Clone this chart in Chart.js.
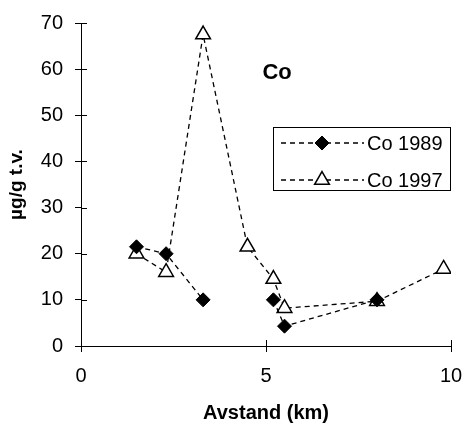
<!DOCTYPE html>
<html>
<head>
<meta charset="utf-8">
<script src="https://cdn.jsdelivr.net/npm/chart.js@4/dist/chart.umd.min.js"></script>
<style>
  html, body { margin: 0; padding: 0; background: #fff; }
  #wrap { width: 464px; height: 426px; }
</style>
</head>
<body>
<div id="wrap"><canvas id="c" width="464" height="426"></canvas></div>
<script>
// Distance of sampling stations (km)
const distance = [1.5, 2.3, 3.3, 4.5, 5.2, 5.5, 8.0, 9.8];
// Co (µg/g t.v.) — null where no measurement
const co1989 = [21.5, 20, 10, null, 10, 4.3, 10, null];
const co1997 = [20, 16, 67.5, 21.5, 14.5, 8.2, 9.7, 16.7];
const seriesLabels = ['Co 1989', 'Co 1997'];
const xTicks = [0, 5, 10];
const yTicks = [0, 10, 20, 30, 40, 50, 60, 70];
const yTitle = 'µg/g t.v.';
const xTitle = 'Avstand (km)';
const panelLabel = 'Co';

const FONT = "'Liberation Sans', Arial, sans-serif";

function toPoints(ys) { return distance.map((x, i) => ({ x: x, y: ys[i] })); }

const ds1989 = {
  label: seriesLabels[0], data: toPoints(co1989), showLine: true, spanGaps: false,
  borderColor: '#000', borderWidth: 1.3, borderDash: [5, 4],
  pointStyle: 'rectRot', pointRadius: 7, pointHoverRadius: 7,
  pointBackgroundColor: '#000', pointBorderColor: '#000', pointBorderWidth: 1
};
const ds1997 = {
  label: seriesLabels[1], data: toPoints(co1997), showLine: true, spanGaps: false,
  borderColor: '#000', borderWidth: 1.3, borderDash: [5, 4],
  pointStyle: 'triangle', pointRadius: 8.5, pointHoverRadius: 8.5,
  pointBackgroundColor: '#fff', pointBorderColor: '#000', pointBorderWidth: 1.5
};

const extras = {
  id: 'extras',
  afterDraw(chart) {
    const ctx = chart.ctx;
    const xs = chart.scales.x, ys = chart.scales.y;
    const area = chart.chartArea;
    ctx.save();
    // inner tick marks (crossing ticks)
    ctx.strokeStyle = '#000'; ctx.lineWidth = 1; ctx.setLineDash([]);
    ctx.beginPath();
    yTicks.forEach(v => { const p = Math.round(ys.getPixelForValue(v)) + 0.5; ctx.moveTo(area.left, p); ctx.lineTo(area.left + 6, p); });
    xTicks.forEach(v => { const p = Math.round(xs.getPixelForValue(v)) + 0.5; ctx.moveTo(p, area.bottom); ctx.lineTo(p, area.bottom - 6); });
    ctx.stroke();

    // panel label
    ctx.fillStyle = '#000';
    ctx.font = 'bold 22px ' + FONT;
    ctx.textAlign = 'center'; ctx.textBaseline = 'middle';
    ctx.fillText(panelLabel, xs.getPixelForValue(5.3), ys.getPixelForValue(59.2));

    // legend box
    const bx = 273, by = 127, bw = 177, bh = 63;
    ctx.fillStyle = '#fff';
    ctx.fillRect(bx, by, bw, bh);
    ctx.strokeStyle = '#000'; ctx.lineWidth = 1;
    ctx.strokeRect(bx + 0.5, by + 0.5, bw, bh);
    const rows = [{ ds: chart.data.datasets[0], y: 143 }, { ds: chart.data.datasets[1], y: 180 }];
    rows.forEach(r => {
      ctx.save();
      ctx.strokeStyle = '#000'; ctx.lineWidth = 1.3; ctx.setLineDash([5, 4]);
      ctx.beginPath(); ctx.moveTo(281, r.y); ctx.lineTo(364, r.y); ctx.stroke();
      ctx.restore();
      ctx.save();
      ctx.fillStyle = r.ds.pointBackgroundColor; ctx.strokeStyle = r.ds.pointBorderColor;
      ctx.lineWidth = r.ds.pointBorderWidth; ctx.setLineDash([]);
      Chart.helpers.drawPoint(ctx, { pointStyle: r.ds.pointStyle, radius: r.ds.pointRadius, rotation: 0, borderWidth: r.ds.pointBorderWidth }, 322, r.y);
      ctx.restore();
      ctx.fillStyle = '#000';
      ctx.font = '20px ' + FONT;
      ctx.textAlign = 'left'; ctx.textBaseline = 'middle';
      ctx.fillText(r.ds.label, 367, r.y + 1);
    });
    ctx.restore();
  }
};

new Chart(document.getElementById('c'), {
  type: 'scatter',
  data: { datasets: [ds1989, ds1997] },
  options: {
    responsive: false, animation: false, devicePixelRatio: 1,
    layout: { padding: { top: 23, right: 13, left: 0, bottom: 0 } },
    plugins: { legend: { display: false }, tooltip: { enabled: false } },
    scales: {
      x: {
        type: 'linear', min: 0, max: 10,
        afterBuildTicks: s => { s.ticks = xTicks.map(v => ({ value: v })); },
        afterFit: s => { s.height = 80; s.paddingLeft = 0; s.paddingRight = 0; },
        border: { color: '#000', width: 1 },
        grid: { drawOnChartArea: false, color: '#000', tickLength: 6, tickWidth: 1 },
        ticks: { color: '#000', padding: 12, font: { family: FONT, size: 20 }, maxRotation: 0 },
        title: { display: true, text: xTitle, color: '#000', font: { family: FONT, size: 20, weight: 'bold' }, padding: { top: 0, bottom: 1 } }
      },
      y: {
        type: 'linear', min: 0, max: 70,
        afterBuildTicks: s => { s.ticks = yTicks.map(v => ({ value: v })); },
        afterFit: s => { s.width = 81; s.paddingTop = 0; s.paddingBottom = 0; },
        border: { color: '#000', width: 1 },
        grid: { drawOnChartArea: false, color: '#000', tickLength: 6, tickWidth: 1 },
        ticks: { color: '#000', padding: 12, font: { family: FONT, size: 20 } },
        title: { display: true, text: yTitle, color: '#000', font: { family: FONT, size: 19, weight: 'bold' }, padding: { top: 5, bottom: 0 } }
      }
    }
  },
  plugins: [extras]
});
</script>
</body>
</html>
